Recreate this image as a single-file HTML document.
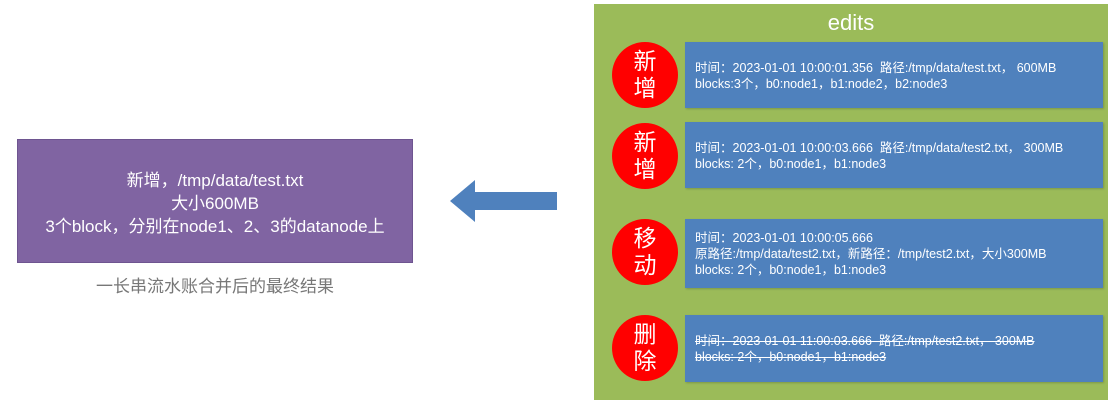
<!DOCTYPE html>
<html><head><meta charset="utf-8"><style>
*{margin:0;padding:0;box-sizing:border-box}
body{width:1110px;height:400px;background:#fff;position:relative;overflow:hidden;font-family:"Liberation Sans","Noto Sans CJK SC",sans-serif}
.abs{position:absolute}
.purple{left:17px;top:139px;width:396px;height:124px;background:#8064a2;border:1px solid #6e5590;color:#fff;font-size:17px;line-height:23px;text-align:center;padding-top:29px}
.cap{left:17px;top:272px;width:396px;text-align:center;color:#777;font-size:17px}
.green{left:594px;top:4px;width:514px;height:396px;background:#9bbb59}
.title{left:594px;top:10px;width:514px;text-align:center;color:#fff;font-size:22px}
.box{left:685px;width:418px;background:#4f81bd;color:#fff;font-size:12.5px;line-height:16px;padding-left:10px;box-shadow:1px 1px 2px rgba(0,0,0,.2)}
.c{left:612px;width:66px;height:66px;border-radius:50%;background:#f00;color:#fff;font-size:23px;line-height:27px;text-align:center;padding-top:6px}
.s{text-decoration:line-through}
</style></head><body>
<div class="abs purple">新增，/tmp/data/test.txt<br>大小600MB<br>3个block，分别在node1、2、3的datanode上</div>
<div class="abs cap">一长串流水账合并后的最终结果</div>
<svg class="abs" style="left:445px;top:175px" width="120" height="52"><polygon points="5,26 30,5 30,17 112,17 112,35 30,35 30,47" fill="#4f81bd"/></svg>
<div class="abs green"></div>
<div class="abs title">edits</div>
<div class="abs c" style="top:42px">新<br>增</div>
<div class="abs box" style="top:42px;height:66px;padding-top:18px">时间：2023-01-01 10:00:01.356&nbsp; 路径:/tmp/data/test.txt，&nbsp;600MB<br>blocks:3个，b0:node1，b1:node2，b2:node3</div>
<div class="abs c" style="top:123px">新<br>增</div>
<div class="abs box" style="top:122px;height:66px;padding-top:18px">时间：2023-01-01 10:00:03.666&nbsp; 路径:/tmp/data/test2.txt，&nbsp;300MB<br>blocks: 2个，b0:node1，b1:node3</div>
<div class="abs c" style="top:219px">移<br>动</div>
<div class="abs box" style="top:219px;height:69px;padding-top:11px">时间：2023-01-01 10:00:05.666<br>原路径:/tmp/data/test2.txt，新路径：/tmp/test2.txt，大小300MB<br>blocks: 2个，b0:node1，b1:node3</div>
<div class="abs c" style="top:315px">删<br>除</div>
<div class="abs box s" style="top:315px;height:67px;padding-top:18px">时间：2023-01-01 11:00:03.666&nbsp; 路径:/tmp/test2.txt，&nbsp;300MB<br>blocks: 2个，b0:node1，b1:node3</div>
</body></html>
